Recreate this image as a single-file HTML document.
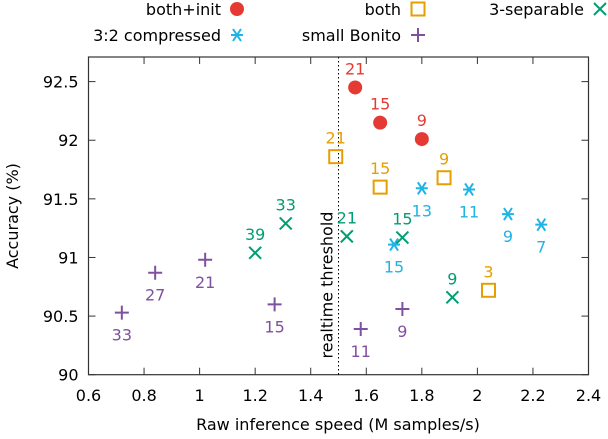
<!DOCTYPE html>
<html><head><meta charset="utf-8"><style>
body{margin:0;background:#fff}
svg{font-family:"DejaVu Sans","Liberation Sans",sans-serif;font-size:16px}
</style></head><body>
<svg id="chart" width="608" height="434" viewBox="0 0 608 434"></svg>
<script>
const xTicks=[0.6,0.8,1,1.2,1.4,1.6,1.8,2,2.2,2.4];
const yTicks=[90,90.5,91,91.5,92,92.5];
const bothInitX=[1.56,1.65,1.80];
const bothInitY=[92.45,92.15,92.01];
const bothInitL=["21","15","9"];
const bothX=[1.49,1.65,1.88,2.04];
const bothY=[91.86,91.60,91.68,90.72];
const bothL=["21","15","9","3"];
const compX=[1.80,1.97,2.11,2.23,1.70];
const compY=[91.59,91.58,91.37,91.28,91.11];
const compL=["13","11","9","7","15"];
const sepX=[1.31,1.20,1.53,1.73,1.91];
const sepY=[91.29,91.04,91.18,91.17,90.66];
const sepL=["33","39","21","15","9"];
const bonX=[0.72,0.84,1.02,1.27,1.58,1.73];
const bonY=[90.53,90.87,90.98,90.60,90.39,90.56];
const bonL=["33","27","21","15","11","9"];
const threshold=1.5;

const L=88.5,R=588.5,T=57,B=374.7,xmin=0.6,xmax=2.4,ymin=90,ymax=92.71;
const sx=v=>L+(v-xmin)/(xmax-xmin)*(R-L);
const sy=v=>B-(v-ymin)/(ymax-ymin)*(B-T);
const svg=document.getElementById('chart');
const NS="http://www.w3.org/2000/svg";
function el(tag,attrs,parent){const e=document.createElementNS(NS,tag);for(const k in attrs)e.setAttribute(k,attrs[k]);(parent||svg).appendChild(e);return e;}
function txt(x,y,s,fill,anchor,parent){const t=el('text',{x:x,y:y,fill:fill||'#000','text-anchor':anchor||'middle'},parent);t.textContent=s;return t;}

const frame=el('rect',{x:L,y:T,width:R-L,height:B-T,fill:'none',stroke:'#333','stroke-width':1.2});


xTicks.forEach(v=>{
  const g=el('g',{});
  
  
  el('line',{x1:sx(v),x2:sx(v),y1:B,y2:B-7,stroke:'#333'},g);
  el('line',{x1:sx(v),x2:sx(v),y1:T,y2:T+7,stroke:'#333'},g);
  txt(sx(v),401,String(v),'#000','middle',g);
});
yTicks.forEach(v=>{
  const g=el('g',{});
  
  
  el('line',{x1:L,x2:L+7,y1:sy(v),y2:sy(v),stroke:'#333'},g);
  el('line',{x1:R,x2:R-7,y1:sy(v),y2:sy(v),stroke:'#333'},g);
  txt(L-10,sy(v)+6,String(v),'#000','end',g);
});
const xt=txt(338,430,'Raw inference speed (M samples/s)');


const yt=txt(0,0,'Accuracy (%)');
yt.setAttribute('transform','translate(18,216) rotate(-90)');



const th=el('line',{x1:sx(threshold),x2:sx(threshold),y1:T,y2:B,stroke:'#000','stroke-dasharray':'1.5,2.5'});


const tt=txt(0,0,'realtime threshold');
tt.setAttribute('transform','translate('+(sx(threshold)-6)+',285) rotate(-90)');



function marker(type,x,y,c,parent){
  if(type==='circle')el('circle',{cx:x,cy:y,r:7,fill:c},parent);
  else if(type==='square')el('rect',{x:x-6.5,y:y-6.5,width:13,height:13,fill:'none',stroke:c,'stroke-width':2},parent);
  else if(type==='x'){el('path',{d:`M${x-6} ${y-6}L${x+6} ${y+6}M${x-6} ${y+6}L${x+6} ${y-6}`,stroke:c,'stroke-width':2},parent);}
  else if(type==='plus'){el('path',{d:`M${x-7} ${y}L${x+7} ${y}M${x} ${y-7}L${x} ${y+7}`,stroke:c,'stroke-width':2},parent);}
  else if(type==='star'){el('path',{d:`M${x-6} ${y}L${x+6} ${y}M${x-4} ${y-6}L${x+4} ${y+6}M${x-4} ${y+6}L${x+4} ${y-6}`,stroke:c,'stroke-width':2},parent);}
}
function series(name,xs,ys,ls,type,c,below){
  const g=el('g',{});
  
  
  xs.forEach((v,i)=>{
    const p=el('g',{},g);
    
    
    const X=sx(v),Y=sy(ys[i]);
    marker(type,X,Y,c,p);
    txt(X,below?Y+28:Y-13,ls[i],c,'middle',p);
  });
}
series('both-init',bothInitX,bothInitY,bothInitL,'circle','#e53a33',false);
series('both',bothX,bothY,bothL,'square','#e69f00',false);
series('compressed',compX,compY,compL,'star','#1fb4e6',true);
series('separable',sepX,sepY,sepL,'x','#009e73',false);
series('small-bonito',bonX,bonY,bonL,'plus','#8050a0',true);

function legend(label,type,c,tx,mx,y,name){
  const g=el('g',{});
  
  
  txt(tx,y+6,label,'#000','end',g);
  marker(type,mx,y,c,g);
}
legend('both+init','circle','#e53a33',221,237,9,'legend-both-init');
legend('both','square','#e69f00',401,418,9,'legend-both');
legend('3-separable','x','#009e73',584,600,9,'legend-separable');
legend('3:2 compressed','star','#1fb4e6',221,237,35,'legend-compressed');
legend('small Bonito','plus','#8050a0',401,418,35,'legend-small-bonito');
</script>
</body></html>
